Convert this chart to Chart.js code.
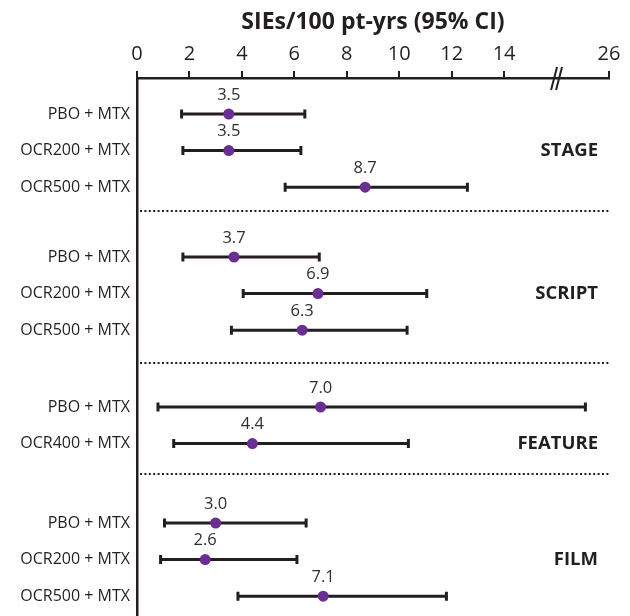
<!DOCTYPE html>
<html>
<head>
<meta charset="utf-8">
<script src="https://cdn.jsdelivr.net/npm/chart.js@4.4.0/dist/chart.umd.min.js"></script>
<style>html, body { margin: 0; background: #fff; }</style>
</head>
<body>
<canvas id="forest" width="630" height="616"></canvas>
<script>
// data
const groups = ['STAGE', 'SCRIPT', 'FEATURE', 'FILM'];
const armLabels = [
  'PBO + MTX', 'OCR200 + MTX', 'OCR500 + MTX',
  'PBO + MTX', 'OCR200 + MTX', 'OCR500 + MTX',
  'PBO + MTX', 'OCR400 + MTX',
  'PBO + MTX', 'OCR200 + MTX', 'OCR500 + MTX'
];
const armGroup = [0, 0, 0, 1, 1, 1, 2, 2, 3, 3, 3];
const estimates = [3.5, 3.5, 8.7, 3.7, 6.9, 6.3, 7.0, 4.4, 3.0, 2.6, 7.1];
const lowerCI = [1.7, 1.75, 5.65, 1.75, 4.05, 3.6, 0.8, 1.4, 1.05, 0.9, 3.85];
const upperCI = [6.4, 6.25, 12.6, 6.95, 11.05, 10.3, 21.5, 10.35, 6.45, 6.1, 11.8];
const xTickValues = [0, 2, 4, 6, 8, 10, 12, 14, 26];

const INK = '#231f20';
const FONT = "'Open Sans', sans-serif";

// axis break: everything past 16 is squeezed 5:1
const BREAK_AT = 16;
const toAxis = v => v <= BREAK_AT ? v : BREAK_AT + (v - BREAK_AT) / 5;

// vertical layout (y axis runs 0..538 top to bottom)
const groupTop = [36, 179, 329, 445];
const rowStep = 36.6;
const separatorY = [133, 285, 396];
const rowY = [];
const seen = {};
armGroup.forEach(g => {
  seen[g] = (seen[g] || 0);
  rowY.push(groupTop[g] + seen[g] * rowStep);
  seen[g]++;
});

const forestPlugin = {
  id: 'forest',
  beforeDatasetsDraw(chart) {
    const { ctx, chartArea, scales: { x, y } } = chart;
    ctx.save();
    // dotted separators between studies
    ctx.strokeStyle = INK;
    ctx.lineWidth = 2;
    ctx.setLineDash([2, 2.4]);
    separatorY.forEach(v => {
      const py = Math.round(y.getPixelForValue(v));
      ctx.beginPath();
      ctx.moveTo(chartArea.left + 3, py);
      ctx.lineTo(chartArea.right, py);
      ctx.stroke();
    });
    ctx.setLineDash([]);
    // CI whiskers
    ctx.lineWidth = 3;
    armLabels.forEach((_, i) => {
      const py = y.getPixelForValue(rowY[i]);
      const x0 = x.getPixelForValue(toAxis(lowerCI[i]));
      const x1 = x.getPixelForValue(toAxis(upperCI[i]));
      ctx.beginPath();
      ctx.moveTo(x0, py); ctx.lineTo(x1, py);
      ctx.moveTo(x0, py - 4.5); ctx.lineTo(x0, py + 4.5);
      ctx.moveTo(x1, py - 4.5); ctx.lineTo(x1, py + 4.5);
      ctx.stroke();
    });
    ctx.restore();
  },
  afterDraw(chart) {
    const { ctx, chartArea, scales: { x, y } } = chart;
    ctx.save();
    // value labels above points
    ctx.fillStyle = '#2e2e2e';
    ctx.font = `16.5px ${FONT}`;
    ctx.textAlign = 'center';
    ctx.textBaseline = 'middle';
    estimates.forEach((v, i) => {
      ctx.fillText(v.toFixed(1), x.getPixelForValue(toAxis(v)), y.getPixelForValue(rowY[i]) - 19);
    });
    // study names on the right, level with second row
    ctx.fillStyle = INK;
    ctx.font = `bold 18.5px ${FONT}`;
    ctx.textAlign = 'right';
    groups.forEach((name, g) => {
      const idx = armGroup.indexOf(g) + 1;
      ctx.fillText(name, chartArea.right - 11, y.getPixelForValue(rowY[idx]));
    });
    // break marks on the x axis
    const bx = x.getPixelForValue(BREAK_AT);
    const by = chartArea.top;
    ctx.strokeStyle = INK;
    ctx.lineWidth = 2;
    [-2.5, 2.5].forEach(d => {
      ctx.beginPath();
      ctx.moveTo(bx + d - 3, by + 12);
      ctx.lineTo(bx + d + 3, by - 11);
      ctx.stroke();
    });
    ctx.restore();
  }
};

new Chart(document.getElementById('forest').getContext('2d'), {
  type: 'scatter',
  data: {
    datasets: [{
      data: estimates.map((v, i) => ({ x: toAxis(v), y: rowY[i] })),
      backgroundColor: '#6a2d91',
      borderWidth: 0,
      pointRadius: 5.5,
      pointHoverRadius: 5.5
    }]
  },
  options: {
    responsive: false,
    animation: false,
    layout: { autoPadding: false, padding: { left: 0, right: 21, top: 0, bottom: 0 } },
    plugins: { legend: { display: false }, tooltip: { enabled: false } },
    scales: {
      x: {
        type: 'linear',
        position: 'top',
        min: 0,
        max: toAxis(26),
        afterBuildTicks: s => { s.ticks = xTickValues.map(v => ({ value: toAxis(v) })); },
        ticks: {
          callback: (v, i) => String(xTickValues[i]),
          font: { family: FONT, size: 20 },
          color: INK,
          padding: 5,
          maxRotation: 0,
          autoSkip: false
        },
        grid: { drawOnChartArea: false, tickLength: 7, lineWidth: 2, color: INK },
        border: { display: true, width: 2.5, color: INK },
        title: {
          display: true,
          text: 'SIEs/100 pt-yrs (95% CI)',
          font: { family: FONT, size: 23, weight: 'bold' },
          color: INK,
          padding: { top: 9, bottom: 0 }
        },
        afterFit: s => { s.height = 78; s.paddingLeft = 0; s.paddingRight = 0; }
      },
      y: {
        type: 'linear',
        min: 0,
        max: 538,
        reverse: true,
        afterBuildTicks: s => { s.ticks = rowY.map(v => ({ value: v })); },
        ticks: {
          callback: (v, i) => armLabels[i],
          font: { family: FONT, size: 16 },
          color: INK,
          padding: 7,
          autoSkip: false
        },
        grid: { drawOnChartArea: false, drawTicks: false },
        border: { display: true, width: 2.5, color: INK },
        afterFit: s => { s.width = 137; s.paddingTop = 0; s.paddingBottom = 0; }
      }
    }
  },
  plugins: [forestPlugin]
});
</script>
</body>
</html>
